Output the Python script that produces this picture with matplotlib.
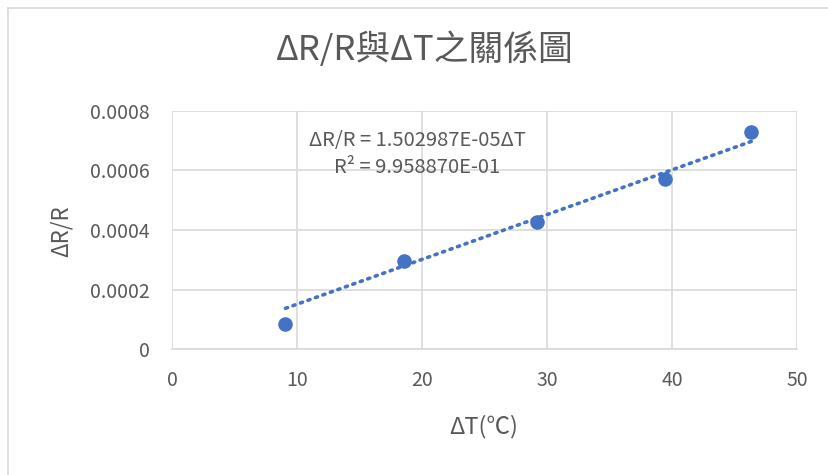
import numpy as np
import matplotlib
matplotlib.use("Agg")
import matplotlib.pyplot as plt
from matplotlib.lines import Line2D

plt.rcParams['font.family'] = ['Noto Sans CJK TC', 'DejaVu Sans']

# 數據
delta_t = [9.08, 18.56, 29.18, 39.48, 46.34]
delta_r_over_r = [0.0000825, 0.000297, 0.000427, 0.000571, 0.000729]
x_ticks = [0, 10, 20, 30, 40, 50]
y_ticks = [0, 0.0002, 0.0004, 0.0006, 0.0008]
y_tick_labels = ['0', '0.0002', '0.0004', '0.0006', '0.0008']
title = 'ΔR/R與ΔT之關係圖'
eq_text = 'ΔR/R = 1.502987E-05ΔT\nR² = 9.958870E-01'

blue = '#4472C4'
grey_text = '#595959'
grid_col = '#D9D9D9'

fig = plt.figure(figsize=(8.29, 4.75), dpi=100)
ax = fig.add_axes([172 / 829, 1 - 349 / 475, (797 - 172) / 829, (349 - 111) / 475])

# 趨勢線 (通過原點)
x = np.array(delta_t)
y = np.array(delta_r_over_r)
slope = np.sum(x * y) / np.sum(x * x)
xs = np.array([x.min(), x.max()])
ax.plot(xs, slope * xs, color=blue, lw=2.6, linestyle=(0, (0.6, 1.6)),
        dash_capstyle='round', zorder=2)

ax.scatter(delta_t, delta_r_over_r, s=110, color=blue, zorder=3, linewidths=0)

ax.set_xlim(0, 50)
ax.set_ylim(0, 0.0008)
ax.set_xticks(x_ticks)
ax.set_yticks(y_ticks)
ax.set_yticklabels(y_tick_labels)
ax.grid(True, color=grid_col, lw=1.2)
ax.set_axisbelow(True)
for s in ax.spines.values():
    s.set_visible(False)
ax.spines['bottom'].set_visible(True)
ax.spines['bottom'].set_color(grid_col)
ax.spines['bottom'].set_linewidth(1.2)
ax.tick_params(length=0, labelsize=14, labelcolor=grey_text)
ax.tick_params(axis='y', pad=16)
ax.tick_params(axis='x', pad=15)

ax.text(417 / 829, 1 - 154 / 475, eq_text, transform=fig.transFigure,
        ha='center', va='center', fontsize=14.5, color=grey_text, linespacing=1.35)

fig.text(425 / 829, 1 - 50 / 475, title, ha='center', va='center',
         fontsize=25, color=grey_text, fontweight='light')
fig.text(61 / 829, 1 - 231 / 475, 'ΔR/R', ha='center', va='center',
         rotation=90, fontsize=16, color=grey_text)
fig.text(484 / 829, 1 - 427 / 475, 'ΔT(℃)', ha='center', va='center',
         fontsize=17, color=grey_text)

# 外框
fig.add_artist(Line2D([8 / 829, 8 / 829], [0, 1 - 8 / 475], color=grid_col, lw=1.2))
fig.add_artist(Line2D([8 / 829, 1], [1 - 8 / 475, 1 - 8 / 475], color=grid_col, lw=1.2))

fig.savefig('out.png', dpi=100)
